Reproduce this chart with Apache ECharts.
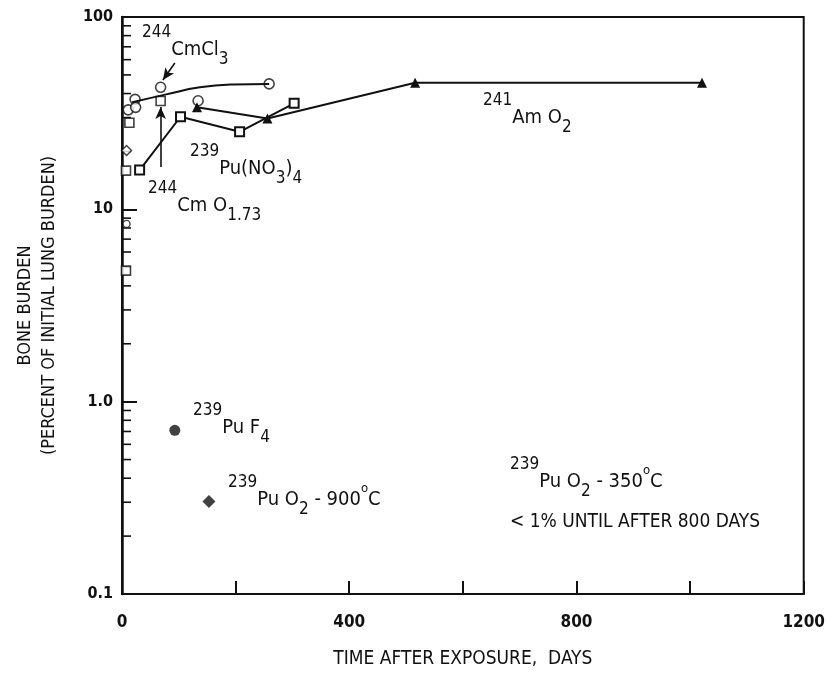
<!DOCTYPE html>
<html>
<head>
<meta charset="utf-8">
<script src="https://cdn.jsdelivr.net/npm/echarts@6/dist/echarts.min.js"></script>
<style>
  html, body { margin: 0; padding: 0; background: #fff; }
  #chart { width: 828px; height: 675px; }
</style>
</head>
<body>
<div id="chart"></div>
<script>
// data (days, percent)
var yLabels = { '0.1': '0.1', '1': '1.0', '10': '10', '100': '100' };
var minorTicks = [0.2, 0.3, 0.4, 0.5, 0.6, 0.7, 0.8, 0.9, 2, 3, 4, 5, 6, 7, 8, 9, 20, 30, 40, 50, 60, 70, 80, 90];

var cmcl3Points = [[11, 32.9], [23, 37.3], [24, 33.9], [68, 43.1], [134, 36.7], [259, 44.9]];
var cmcl3Fit = [[18, 36], [78, 39.6], [137, 43.1], [195, 44.6], [259, 44.9]];
var cmO173 = [[7, 4.8], [7, 15.9], [13, 28.2], [68, 36.6]];
var puNO3 = [[31, 16.0], [103, 30.3], [207, 25.3], [303, 35.6]];
var amO2 = [[132, 33.9], [256, 29.7], [516, 45.5], [1021, 45.5]];
var puF4 = [[93, 0.71]];
var puO2900 = [[153, 0.303]];
var earlyDiamond = [[8, 20.2]];
var earlyCircle = [[8, 8.4]];

// arrows: [tail, head]
var arrowCmCl3 = [[93, 57.7], [72, 47.0]];
var arrowCmO = [[68, 16.6], [68, 34.0]];

var FONT = '"Liberation Sans Narrow", "DejaVu Sans Condensed", sans-serif';
var INK = '#111';

var rich = {
  s: { fontSize: 17, lineHeight: 17, verticalAlign: 'top', fontFamily: FONT, fill: INK },
  n: { fontSize: 20, lineHeight: 52, verticalAlign: 'middle', fontFamily: FONT, fill: INK },
  b: { fontSize: 17, verticalAlign: 'bottom', padding: [0, 0, 8, 0], fontFamily: FONT, fill: INK },
  d: { fontSize: 13, verticalAlign: 'top', padding: [8, 0, 0, 0], fontFamily: FONT, fill: INK }
};

function note(x, y, text) {
  return {
    type: 'text', x: x, y: y, silent: true,
    style: { text: text, rich: rich, fill: INK, align: 'left', verticalAlign: 'top', fontFamily: FONT, fontSize: 20 }
  };
}

var myChart = echarts.init(document.getElementById('chart'));

var option = {
  animation: false,
  grid: {
    left: 122, right: 21, top: 17, bottom: 81,
    show: true, borderColor: INK, borderWidth: 2
  },
  xAxis: {
    type: 'value',
    min: 0, max: 1200, interval: 200,
    name: 'TIME AFTER EXPOSURE,  DAYS',
    nameLocation: 'middle', nameGap: 56,
    nameTextStyle: { fontFamily: FONT, fontSize: 19, color: INK },
    axisLine: { lineStyle: { color: INK, width: 2 } },
    axisTick: { inside: true, length: 13, lineStyle: { color: INK, width: 2 } },
    axisLabel: {
      margin: 20, fontFamily: FONT, fontSize: 17, fontWeight: 'bold', color: INK,
      formatter: function (v) { return v % 400 === 0 ? String(v) : ''; }
    },
    splitLine: { show: false }
  },
  yAxis: {
    type: 'log', logBase: 10,
    min: 0.1, max: 100,
    name: 'BONE BURDEN\n(PERCENT OF INITIAL LUNG BURDEN)',
    nameLocation: 'middle', nameGap: 61, nameRotate: 90,
    nameTextStyle: { fontFamily: FONT, fontSize: 18, color: INK, lineHeight: 24 },
    axisLine: { lineStyle: { color: INK, width: 2.5 } },
    axisTick: { inside: true, length: 15, lineStyle: { color: INK, width: 2 } },
    axisLabel: {
      margin: 9, fontFamily: FONT, fontSize: 16, fontWeight: 'bold', color: INK,
      formatter: function (v) { return yLabels[String(+v.toPrecision(3))] || ''; }
    },
    splitLine: { show: false }
  },
  series: [
    {
      name: 'minor ticks', type: 'custom', silent: true, clip: false,
      data: minorTicks.map(function (v) { return [0, v]; }),
      renderItem: function (params, api) {
        var p = api.coord([0, api.value(1)]);
        return {
          type: 'line',
          shape: { x1: p[0], y1: p[1], x2: p[0] + 9, y2: p[1] },
          style: { stroke: INK, lineWidth: 1.6 }
        };
      }
    },
    {
      name: 'CmCl3 fit', type: 'line', smooth: true, symbol: 'none',
      lineStyle: { color: INK, width: 2 },
      data: cmcl3Fit
    },
    {
      name: 'Pu(NO3)4', type: 'line', symbol: 'emptyRect', symbolSize: 9,
      lineStyle: { color: INK, width: 2 },
      itemStyle: { color: INK, borderColor: INK, borderWidth: 2.5 },
      data: puNO3
    },
    {
      name: 'AmO2', type: 'line', symbol: 'triangle', symbolSize: 10,
      lineStyle: { color: INK, width: 2 },
      itemStyle: { color: INK },
      data: amO2
    },
    {
      name: 'CmCl3', type: 'scatter', symbol: 'circle', symbolSize: 10,
      itemStyle: { color: '#fff', borderColor: INK, borderWidth: 1.6 },
      data: cmcl3Points,
      markLine: {
        silent: true, symbol: ['none', 'arrow'], symbolSize: [8, 12],
        lineStyle: { color: INK, width: 1.6, type: 'solid' },
        label: { show: false },
        data: [
          [{ coord: arrowCmCl3[0] }, { coord: arrowCmCl3[1] }],
          [{ coord: arrowCmO[0] }, { coord: arrowCmO[1] }]
        ]
      }
    },
    {
      name: 'CmO1.73', type: 'scatter', symbol: 'rect', symbolSize: 9,
      itemStyle: { color: '#fff', borderColor: INK, borderWidth: 1.6 },
      data: cmO173
    },
    {
      name: 'early diamond', type: 'scatter', symbol: 'diamond', symbolSize: 10,
      itemStyle: { color: '#fff', borderColor: INK, borderWidth: 1.4 },
      data: earlyDiamond
    },
    {
      name: 'early circle', type: 'scatter', symbol: 'circle', symbolSize: 7,
      itemStyle: { color: '#fff', borderColor: INK, borderWidth: 1.4 },
      data: earlyCircle
    },
    {
      name: 'PuF4', type: 'scatter', symbol: 'circle', symbolSize: 11,
      itemStyle: { color: INK },
      data: puF4
    },
    {
      name: 'PuO2 900C', type: 'scatter', symbol: 'diamond', symbolSize: 13,
      itemStyle: { color: INK },
      data: puO2900
    }
  ],
  graphic: [
    note(142, 24, '{s|244}{n|CmCl}{b|3}'),
    note(148, 180, '{s|244}{n|Cm O}{b|1.73}'),
    note(190, 143, '{s|239}{n|Pu(NO}{b|3}{n|)}{b|4}'),
    note(483, 92, '{s|241}{n|Am O}{b|2}'),
    note(193, 402, '{s|239}{n|Pu F}{b|4}'),
    note(228, 474, '{s|239}{n|Pu O}{b|2}{n| - 900}{d|o}{n|C}'),
    note(510, 456, '{s|239}{n|Pu O}{b|2}{n| - 350}{d|o}{n|C}'),
    {
      type: 'text', x: 510, y: 522, silent: true,
      style: { text: '< 1% UNTIL AFTER 800 DAYS', fill: INK, fontFamily: FONT, fontSize: 19, align: 'left', verticalAlign: 'middle' }
    }
  ]
};

myChart.setOption(option);
</script>
</body>
</html>
